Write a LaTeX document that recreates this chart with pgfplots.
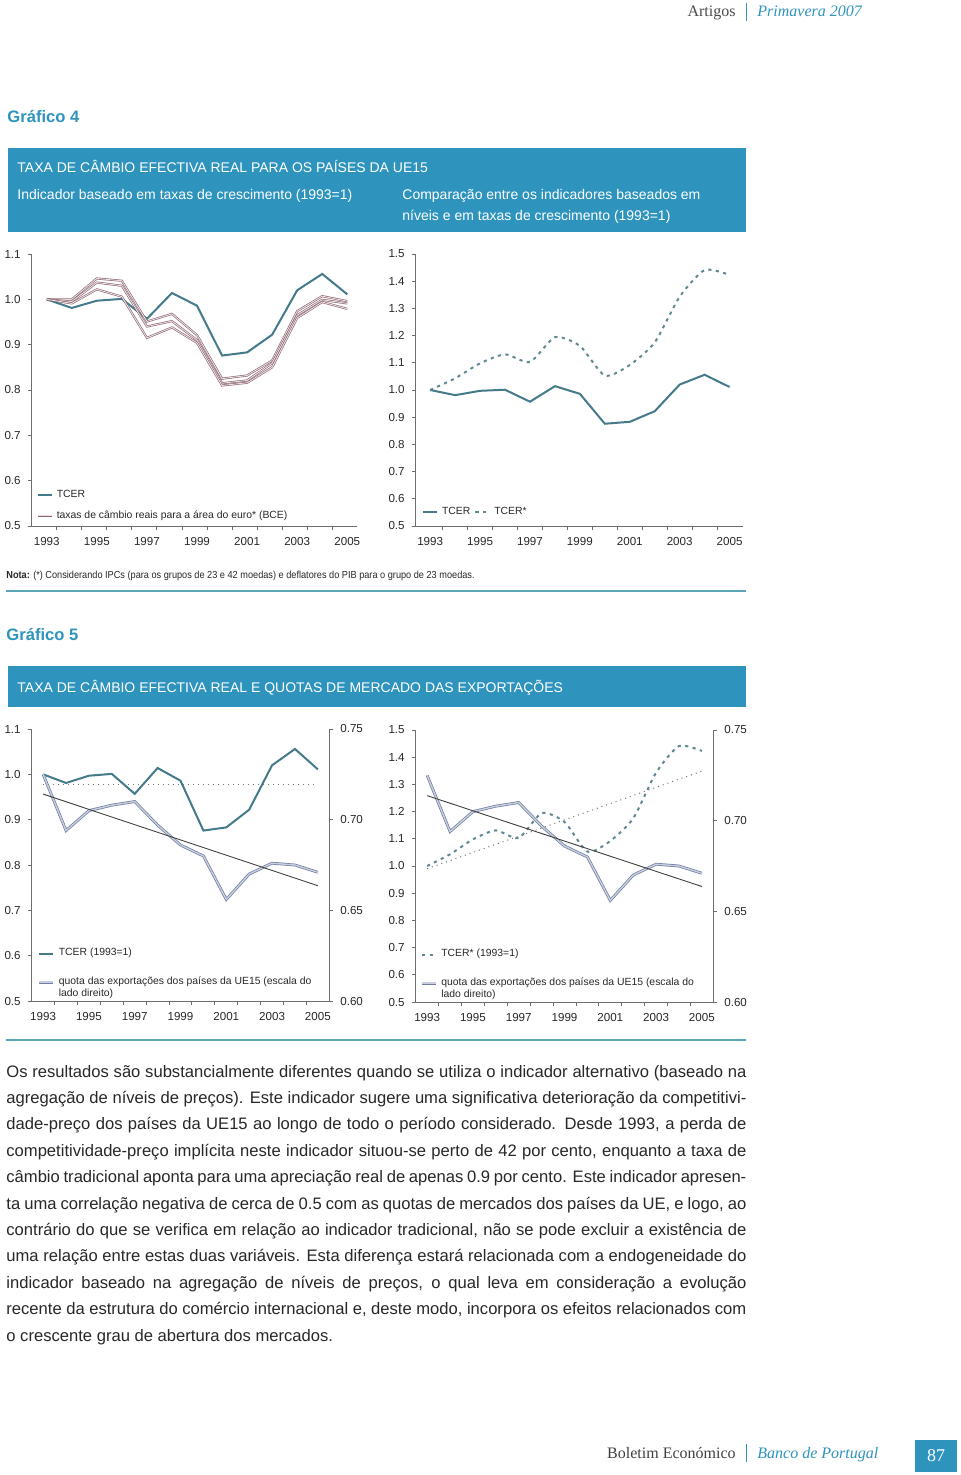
\documentclass[border=0pt]{standalone}
\usepackage{fontspec}
\setmainfont{Liberation Sans}
\newfontfamily\gar{Liberation Serif}
\newfontfamily\narrowf[FakeStretch=0.9]{Liberation Sans}
\usepackage{graphicx}
\usepackage{pgfplots}
\usepackage{pgfplotstable}
\pgfplotsset{compat=1.18}

\definecolor{bpblue}{RGB}{46,148,190}
\definecolor{rule}{RGB}{95,165,185}
\definecolor{tcer}{RGB}{68,122,138}
\definecolor{tcers}{RGB}{98,136,148}
\definecolor{ecb}{RGB}{140,100,110}
\definecolor{quota}{RGB}{110,125,160}
\definecolor{quotain}{RGB}{200,206,222}
\definecolor{axgray}{RGB}{110,110,110}
\definecolor{txt}{RGB}{40,40,40}

\newcommand{\ticf}{\fontsize{5.8}{6.5}\selectfont}
\newcommand{\legf}{\fontsize{5.2}{6}\selectfont}
\newcommand{\boxf}{\fontsize{7}{8}\selectfont}
\newcommand{\bodyf}{\fontsize{8.3}{10}\selectfont}

% dados
\pgfplotstableread{
ano  tcer  ecba  ecbb  ecbc  tcers quota
1993 1.000 1.000 1.000 1.000 1.000 0.725
1994 0.981 1.000 0.995 0.991 1.043 0.694
1995 0.997 1.046 1.037 1.022 1.098 0.705
1996 1.001 1.041 1.030 1.006 1.131 0.708
1997 0.957 0.951 0.940 0.915 1.103 0.710
1998 1.014 0.968 0.952 0.938 1.194 0.697
1999 0.986 0.921 0.910 0.904 1.162 0.686
2000 0.876 0.825 0.815 0.810 1.053 0.680
2001 0.883 0.832 0.821 0.816 1.092 0.656
2002 0.922 0.865 0.859 0.850 1.175 0.670
2003 1.020 0.974 0.965 0.959 1.343 0.676
2004 1.056 1.007 0.999 0.994 1.441 0.675
2005 1.011 0.996 0.991 0.979 1.423 0.671
}\dados

\tikzset{
  tcerl/.style={draw=tcer, line width=1pt},
  tcersl/.style={draw=tcers, line width=1pt, dash pattern=on 1.6pt off 2.2pt},
  ecbl/.style={draw=ecb, line width=0.3pt, double=white!80!ecb, double distance=0.45pt},
  quotal/.style={draw=quota, line width=0.35pt, double=quotain, double distance=0.7pt},
  trendl/.style={draw=black!75, line width=0.45pt},
  trenddot/.style={draw=black!55, line width=0.5pt, dotted},
}

\pgfplotsset{
  bp/.style={
    scale only axis, clip=false, no markers,
    axis x line*=bottom, axis y line*=left,
    tick align=outside,
    axis line style={draw=axgray, line width=0.45pt},
    tick style={draw=axgray, line width=0.45pt},
    major tick length=2pt, minor tick length=2.2pt,
    xtick={1993,1995,...,2005},
    major x tick style={draw=none},
    minor xtick={1993.5,1994.5,1995.5,1996.5,1997.5,1998.5,1999.5,2000.5,2001.5,2002.5,2003.5,2004.5},
    xmin=1992.5, xmax=2005.5,
    /pgf/number format/assume math mode=true,
    xticklabel style={/pgf/number format/1000 sep={}, font=\ticf, text=txt},
    yticklabel style={/pgf/number format/fixed, /pgf/number format/fixed zerofill,
      /pgf/number format/precision=1, font=\ticf, text=txt},
    legend style={draw=none, fill=none, font=\legf, text=txt, inner sep=0pt,
      cells={anchor=west, align=left}},
    legend image code/.code={\draw[##1] (0pt,0pt) -- (7pt,0pt);},
  },
}

\begin{document}
\begin{tikzpicture}[x=0.5pt,y=-0.5pt]
\path[use as bounding box, fill=white] (0,0) rectangle (960,1475);

% cabecalho
\node[anchor=base east, inner sep=0, text=black!70] at (736,17) {\gar\fontsize{8}{9}\selectfont Artigos};
\draw[bpblue, line width=0.4pt] (746,3) -- (746,21);
\node[anchor=base west, inner sep=0, text=bpblue] at (757,17) {\gar\itshape\fontsize{8}{9}\selectfont Primavera 2007};

% Grafico 4
\node[anchor=base west, inner sep=0, text=bpblue] at (7,123) {\fontsize{8.3}{9}\selectfont\bfseries Gráfico 4};
\fill[bpblue] (8,148) rectangle (746,232);
\node[anchor=base west, inner sep=0, text=white] at (17,173) {\boxf TAXA DE CÂMBIO EFECTIVA REAL PARA OS PAÍSES DA UE15};
\node[anchor=base west, inner sep=0, text=white] at (17,200) {\boxf Indicador baseado em taxas de crescimento (1993=1)};
\node[anchor=base west, inner sep=0, text=white] at (402,200) {\boxf Comparação entre os indicadores baseados em};
\node[anchor=base west, inner sep=0, text=white] at (402,221) {\boxf níveis e em taxas de crescimento (1993=1)};

\coordinate (g1) at (31.7,526);
\coordinate (g2) at (415.7,526);
\coordinate (g3) at (31.7,1001);
\coordinate (g4) at (415.7,1002);

% grafico 4, esquerda
\begin{axis}[bp, at={(g1)}, anchor=south west, width=162.8pt, height=136pt,
  xmin=1992.4, xmax=2005.4,
  minor xtick={1993.4,1994.4,1995.4,1996.4,1997.4,1998.4,1999.4,2000.4,2001.4,2002.4,2003.4,2004.4},
  ymin=0.5, ymax=1.1, ytick={0.5,0.6,...,1.1},
  legend style={at={(0.014,0.148)}, anchor=north west, row sep=1pt}]
\addplot[tcerl] table[x=ano, y=tcer] {\dados};
\addlegendentry{TCER}
\addplot[ecbl] table[x=ano, y=ecba] {\dados};
\addlegendentry{taxas de câmbio reais para a área do euro* (BCE)}
\addplot[ecbl, forget plot] table[x=ano, y=ecbb] {\dados};
\addplot[ecbl, forget plot] table[x=ano, y=ecbc] {\dados};
\end{axis}

% grafico 4, direita
\begin{axis}[bp, at={(g2)}, anchor=south west, width=163.8pt, height=136pt,
  xmin=1992.42, xmax=2005.55,
  ymin=0.5, ymax=1.5, ytick={0.5,0.6,...,1.5},
  legend columns=2,
  legend style={at={(0.018,0.085)}, anchor=north west}]
\addplot[tcerl] table[x=ano, y=tcer] {\dados};
\addlegendentry{TCER}
\addplot[tcersl, smooth, tension=0.4] table[x=ano, y=tcers] {\dados};
\addlegendentry{TCER*}
\end{axis}

% nota
\node[anchor=base west, inner sep=0, text=txt] at (6,578) {\narrowf\fontsize{5.1}{6}\selectfont\textbf{Nota:} (*) Considerando IPCs (para os grupos de 23 e 42 moedas) e deflatores do PIB para o grupo de 23 moedas.};
\draw[rule, line width=0.6pt] (6,591) -- (746,591);

% Grafico 5
\node[anchor=base west, inner sep=0, text=bpblue] at (6,640) {\fontsize{8.3}{9}\selectfont\bfseries Gráfico 5};
\fill[bpblue] (8,666) rectangle (746,707);
\node[anchor=base west, inner sep=0, text=white] at (17,692) {\boxf TAXA DE CÂMBIO EFECTIVA REAL E QUOTAS DE MERCADO DAS EXPORTAÇÕES};

% grafico 5, esquerda
\begin{axis}[bp, at={(g3)}, anchor=south west, width=148.8pt, height=136pt,
  ymin=0.5, ymax=1.1, ytick={0.5,0.6,...,1.1},
  legend style={at={(0.02,0.21)}, anchor=north west, row sep=5pt}]
\addplot[tcerl] table[x=ano, y=tcer] {\dados};
\addlegendentry{TCER (1993=1)}
\addlegendimage{legend image code/.code={\draw[quotal] (0pt,3pt) -- (7pt,3pt);}}
\addlegendentry{quota das exportações dos países da UE15  (escala do\\lado direito)}
\addplot[trenddot] coordinates {(1993,0.978) (2005,0.978)};
\end{axis}
\begin{axis}[bp, at={(g3)}, anchor=south west, width=148.8pt, height=136pt,
  axis x line=none, axis y line*=right,
  ymin=0.6, ymax=0.75, ytick={0.6,0.65,0.7,0.75},
  yticklabel style={/pgf/number format/precision=2}]
\addplot[quotal] table[x=ano, y=quota] {\dados};
\addplot[trendl] coordinates {(1993,0.7141) (2005,0.6636)};
\end{axis}

% grafico 5, direita
\begin{axis}[bp, at={(g4)}, anchor=south west, width=148.8pt, height=136pt,
  ymin=0.5, ymax=1.5, ytick={0.5,0.6,...,1.5},
  legend style={at={(0.015,0.21)}, anchor=north west, row sep=5pt}]
\addplot[tcersl, smooth, tension=0.4] table[x=ano, y=tcers] {\dados};
\addlegendentry{TCER* (1993=1)}
\addlegendimage{legend image code/.code={\draw[quotal] (0pt,3pt) -- (7pt,3pt);}}
\addlegendentry{quota das exportações dos países da UE15  (escala do\\lado direito)}
\addplot[trenddot] coordinates {(1993,0.990) (2005,1.349)};
\end{axis}
\begin{axis}[bp, at={(g4)}, anchor=south west, width=148.8pt, height=136pt,
  axis x line=none, axis y line*=right,
  ymin=0.6, ymax=0.75, ytick={0.6,0.65,0.7,0.75},
  yticklabel style={/pgf/number format/precision=2}]
\addplot[quotal] table[x=ano, y=quota] {\dados};
\addplot[trendl] coordinates {(1993,0.7138) (2005,0.6637)};
\end{axis}

\draw[rule, line width=0.6pt] (6,1040) -- (746,1040);

% texto
\begin{scope}[every node/.style={anchor=base west, inner sep=0, text=txt, font=\bodyf}]
\node at (6,1077) {\makebox[370pt][s]{Os resultados são substancialmente diferentes quando se utiliza o indicador alternativo (baseado na}};
\node at (6,1103.4) {\makebox[370pt][s]{agregação de níveis de preços). Este indicador sugere uma significativa deterioração da competitivi-}};
\node at (6,1129.8) {\makebox[370pt][s]{dade-preço dos países da UE15 ao longo de todo o período considerado. Desde 1993, a perda de}};
\node at (6,1156.2) {\makebox[370pt][s]{competitividade-preço implícita neste indicador situou-se perto de 42 por cento, enquanto a taxa de}};
\node at (6,1182.6) {\makebox[370pt][s]{câmbio tradicional aponta para uma apreciação real de apenas 0.9 por cento. Este indicador apresen-}};
\node at (6,1209) {\makebox[370pt][s]{ta uma correlação negativa de cerca de 0.5 com as quotas de mercados dos países da UE, e logo, ao}};
\node at (6,1235.4) {\makebox[370pt][s]{contrário do que se verifica em relação ao indicador tradicional, não se pode excluir a existência de}};
\node at (6,1261.8) {\makebox[370pt][s]{uma relação entre estas duas variáveis. Esta diferença estará relacionada com a endogeneidade do}};
\node at (6,1288.2) {\makebox[370pt][s]{indicador baseado na agregação de níveis de preços, o qual leva em consideração a evolução}};
\node at (6,1314.6) {\makebox[370pt][s]{recente da estrutura do comércio internacional e, deste modo, incorpora os efeitos relacionados com}};
\node at (6,1341) {o crescente grau de abertura dos mercados.};
\end{scope}

% rodape
\node[anchor=base east, inner sep=0, text=black!75] at (736,1458) {\gar\fontsize{8}{9}\selectfont Boletim Económico};
\draw[bpblue, line width=0.4pt] (746,1444) -- (746,1462);
\node[anchor=base west, inner sep=0, text=bpblue] at (757,1458) {\gar\itshape\fontsize{8}{9}\selectfont Banco de Portugal};
\fill[bpblue] (915,1440) rectangle (957,1472);
\node[text=white, inner sep=0] at (936,1456) {\gar\fontsize{9}{10}\selectfont 87};
\end{tikzpicture}
\end{document}
